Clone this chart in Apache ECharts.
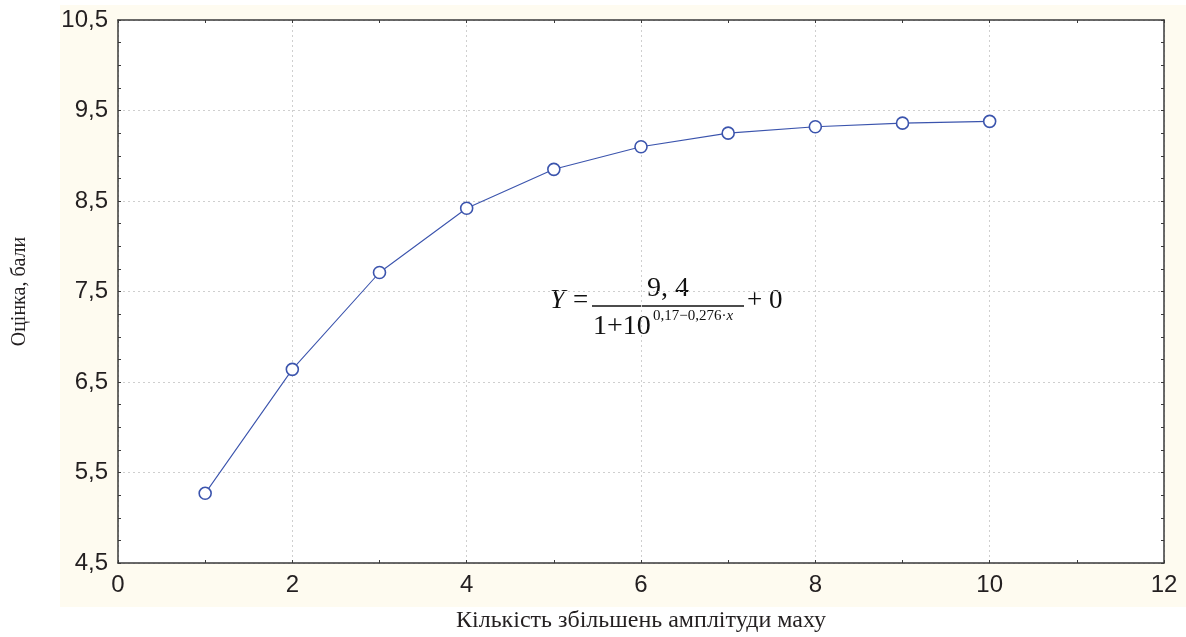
<!DOCTYPE html>
<html><head><meta charset="utf-8">
<script src="https://cdn.jsdelivr.net/npm/echarts@6/dist/echarts.min.js"></script>
<style>html,body{margin:0;padding:0;background:#fff}#c{width:1186px;height:637px}</style>
</head><body><div id="c"></div>
<script>
const xValues = [1, 2, 3, 4, 5, 6, 7, 8, 9, 10];
const yValues = [5.27, 6.64, 7.71, 8.42, 8.85, 9.10, 9.25, 9.32, 9.36, 9.38];
const xTitle = 'Кількість збільшень амплітуди маху';
const yTitle = 'Оцінка, бали';

const chart = echarts.init(document.getElementById('c'), null, {renderer: 'canvas'});
const axisColor = '#3a3a3a';
const labelStyle = {fontFamily: 'Liberation Sans, Arial, sans-serif', fontSize: 24, color: '#231f20'};
const fmt = v => String(v).replace('.', ',');
const grid = {left: 118, right: 22, top: 20, bottom: 74, containLabel: false, outerBoundsMode: 'none'};
const serif = 'Liberation Serif, Times New Roman, serif';

chart.setOption({
  animation: false,
  backgroundColor: '#ffffff',
  graphic: [
    {type: 'rect', z: -10, shape: {x: 60, y: 5, width: 1126, height: 602}, style: {fill: '#fefbf0'}},
    {type: 'rect', z: -9, shape: {x: 118, y: 20, width: 1046, height: 543}, style: {fill: '#ffffff'}},
    {type: 'group', z: 50, children: [
      {type: 'text', x: 550, y: 287, style: {text: 'Y', font: 'italic 27px ' + serif, fill: '#111'}},
      {type: 'text', x: 573, y: 287, style: {text: '=', font: '27px ' + serif, fill: '#111'}},
      {type: 'text', x: 668, y: 275, style: {text: '9, 4', font: '28px ' + serif, fill: '#111', align: 'center'}},
      {type: 'line', shape: {x1: 592, y1: 306, x2: 744, y2: 306}, style: {stroke: '#111', lineWidth: 1.3}},
      {type: 'text', x: 593, y: 313, style: {text: '1+10', font: '28px ' + serif, fill: '#111'}},
      {type: 'text', x: 653, y: 309, style: {rich: {a: {font: '15px ' + serif, fill: '#111'}, b: {font: 'italic 15px ' + serif, fill: '#111'}}, text: '{a|0,17−0,276·}{b|x}'}},
      {type: 'text', x: 747, y: 287, style: {text: '+ 0', font: '27px ' + serif, fill: '#111'}}
    ]}
  ],
  grid: grid,
  xAxis: [
    {type: 'value', min: 0, max: 12, interval: 2, position: 'bottom',
     axisLine: {show: true, onZero: false, lineStyle: {color: axisColor, width: 1.5}},
     axisTick: {show: true, inside: true, length: 3, lineStyle: {color: axisColor}},
     minorTick: {show: true, splitNumber: 2, length: 3, lineStyle: {color: axisColor}},
     axisLabel: {...labelStyle, margin: 10, formatter: fmt},
     splitLine: {show: true, lineStyle: {color: '#cfcfcf', type: [2, 3], width: 1}},
     name: xTitle, nameLocation: 'middle', nameGap: 46,
     nameTextStyle: {fontFamily: serif, fontSize: 24, color: '#231f20'}},
    {type: 'value', min: 0, max: 12, interval: 2, position: 'top',
     axisLine: {show: true, onZero: false, lineStyle: {color: axisColor, width: 1.5}},
     axisTick: {show: true, inside: true, length: 3, lineStyle: {color: axisColor}},
     minorTick: {show: true, splitNumber: 2, length: 3, lineStyle: {color: axisColor}},
     axisLabel: {show: false}, splitLine: {show: false}}
  ],
  yAxis: [
    {type: 'value', min: 4.5, max: 10.5, interval: 1, position: 'left',
     axisLine: {show: true, onZero: false, lineStyle: {color: axisColor, width: 1.5}},
     axisTick: {show: true, inside: true, length: 3, lineStyle: {color: axisColor}},
     minorTick: {show: true, splitNumber: 4, length: 3, lineStyle: {color: axisColor}},
     axisLabel: {...labelStyle, margin: 10, formatter: v => fmt(v.toFixed(1))},
     splitLine: {show: true, lineStyle: {color: '#cfcfcf', type: [2, 3], width: 1}},
     name: yTitle, nameLocation: 'middle', nameGap: 88, nameRotate: 90,
     nameTextStyle: {fontFamily: serif, fontSize: 20, color: '#231f20'}},
    {type: 'value', min: 4.5, max: 10.5, interval: 1, position: 'right',
     axisLine: {show: true, onZero: false, lineStyle: {color: axisColor, width: 1.5}},
     axisTick: {show: true, inside: true, length: 3, lineStyle: {color: axisColor}},
     minorTick: {show: true, splitNumber: 4, length: 3, lineStyle: {color: axisColor}},
     axisLabel: {show: false}, splitLine: {show: false}}
  ],
  series: [{
    type: 'line',
    data: xValues.map((x, i) => [x, yValues[i]]),
    symbol: 'circle', symbolSize: 12,
    lineStyle: {color: '#3b54ad', width: 1.1},
    itemStyle: {color: '#ffffff', borderColor: '#3b54ad', borderWidth: 1.6},
    z: 10
  }]
});
</script></body></html>
